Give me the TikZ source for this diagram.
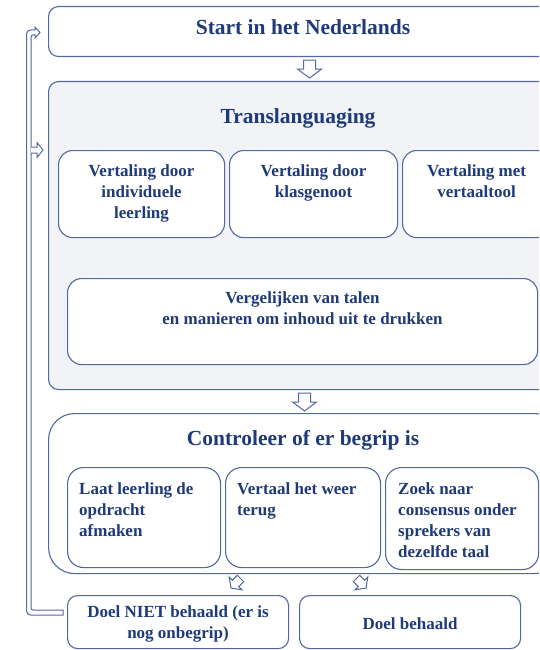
\documentclass[tikz,border=0pt]{standalone}
\usepackage{fontspec}
\setmainfont{Liberation Serif}
\usetikzlibrary{calc}
\definecolor{navy}{HTML}{1F3A78}
\definecolor{edge}{HTML}{5468A0}
\definecolor{panel}{HTML}{F2F3F7}
\tikzset{
  box/.style={draw=edge, line width=1.1pt, rounded corners=#1, anchor=north west, inner sep=0pt, fill=white},
  box/.default=10pt,
  ttl/.style={font=\fontsize{21.5}{25}\selectfont\bfseries, text=navy, inner sep=0pt},
  txt/.style={font=\fontsize{17}{21}\selectfont\bfseries, text=navy, inner sep=0pt, align=center, anchor=north},
  ltxt/.style={font=\fontsize{17}{21}\selectfont\bfseries, text=navy, inner sep=0pt, align=left, anchor=north west},
  harrow/.style={draw=edge, line width=1pt, fill=white, line join=miter},
  hollow/.pic={\path[harrow] (-6,0) -- (6,0) -- (6,9) -- (12,9) -- (0,18) -- (-12,9) -- (-6,9) -- cycle;}
}
\begin{document}
\begin{tikzpicture}[x=1pt,y=-1pt]
\useasboundingbox (0,0) rectangle (539,650);
\clip (0,0) rectangle (539,650);

% Start
\node[box, minimum width=520pt, minimum height=50pt] (start) at (48,6) {};
\node[ttl] (starttxt) at (303,27) {Start in het Nederlands};

% Translanguaging panel
\node[box, fill=panel, minimum width=520pt, minimum height=308pt] (trans) at (48,81) {};
\node[ttl] (transtxt) at (298,118) {Translanguaging};

\node[box=14pt, minimum width=166pt, minimum height=87pt] (v1) at (58,150) {};
\node[box=14pt, minimum width=168pt, minimum height=87pt] (v2) at (229,150) {};
\node[box=14pt, minimum width=148pt, minimum height=87pt] (v3) at (402,150) {};
\node[txt] (v1t) at ($(v1.north)+(0,15)$) {Vertaling door\\individuele\\leerling};
\node[txt] (v2t) at ($(v2.north)+(0,15)$) {Vertaling door\\klasgenoot};
\node[txt] (v3t) at ($(v3.north)+(0,15)$) {Vertaling met\\vertaaltool};

\node[box=14pt, minimum width=470pt, minimum height=86pt] (verg) at (67,278) {};
\node[txt] (vergt) at ($(verg.north)+(0,14)$) {Vergelijken van talen\\en manieren om inhoud uit te drukken};

% Controleer
\node[box=26pt, minimum width=512pt, minimum height=160pt] (ctrl) at (48,413) {};
\node[ttl] (ctrltxt) at (303,440) {Controleer of er begrip is};

\node[box=16pt, minimum width=153pt, minimum height=100pt] (c1) at (67,467) {};
\node[box=16pt, minimum width=155pt, minimum height=100pt] (c2) at (225,467) {};
\node[box=16pt, minimum width=153pt, minimum height=102pt] (c3) at (385,467) {};
\node[ltxt] (c1t) at ($(c1.north west)+(12,15)$) {Laat leerling de\\opdracht\\afmaken};
\node[ltxt] (c2t) at ($(c2.north west)+(12,15)$) {Vertaal het weer\\terug};
\node[ltxt] (c3t) at ($(c3.north west)+(13,15)$) {Zoek naar\\consensus onder\\sprekers van\\dezelfde taal};

% Outcomes
\node[box=10pt, minimum width=221pt, minimum height=53pt] (notok) at (67,595) {};
\node[box=10pt, minimum width=221pt, minimum height=53pt] (ok) at (299,595) {};
\node[txt, anchor=center] (notokt) at ($(notok.center)+(0,2)$) {Doel NIET behaald (er is\\nog onbegrip)};
\node[txt, anchor=center] (okt) at ($(ok.center)+(0,2)$) {Doel behaald};

% hollow block arrows
\pic at ($(start.south)+(1,3)$) {hollow};
\pic at ($(ctrl.north)+(0,-20)$) {hollow};
% down-left towards "Doel NIET behaald"
\coordinate (dl) at (240.5,578.5);
\draw[harrow] ($(dl)+(3.18,3.18)$) -- ($(dl)+(-3.18,-3.18)$) -- ($(dl)+(-8.13,1.77)$) -- ($(dl)+(-11.31,-1.41)$) -- ($(dl)+(-9.55,9.55)$) -- ($(dl)+(1.41,11.31)$) -- ($(dl)+(-1.77,8.13)$) -- cycle;
% down-right towards "Doel behaald"
\coordinate (dr) at (356.5,578.5);
\draw[harrow] ($(dr)+(-3.18,3.18)$) -- ($(dr)+(3.18,-3.18)$) -- ($(dr)+(8.13,1.77)$) -- ($(dr)+(11.31,-1.41)$) -- ($(dr)+(9.55,9.55)$) -- ($(dr)+(-1.41,11.31)$) -- ($(dr)+(1.77,8.13)$) -- cycle;

% feedback loop
\coordinate (loopend) at ($(notok.west)+(-4,-9)$);
\draw[harrow] (63,610) -- (63,615) [rounded corners=4pt] -- (26.5,615) -- (26.5,30) [sharp corners] -- (35,30) -- (35,27) -- (40,32.5) -- (35,38) -- (35,35) [rounded corners=2pt] -- (31,35) -- (31,610) [sharp corners] -- cycle;
\draw[harrow] (31,147) -- (37,147) -- (37,142.5) -- (43,150) -- (37,157.5) -- (37,153) -- (31,153);
\end{tikzpicture}
\end{document}
